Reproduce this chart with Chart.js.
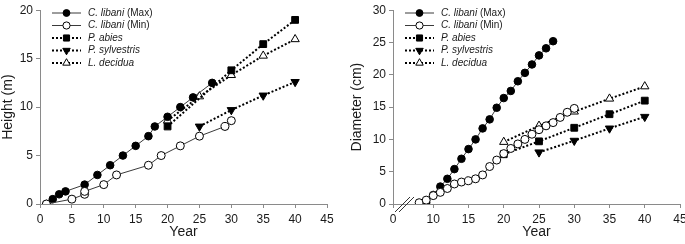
<!DOCTYPE html>
<html>
<head>
<meta charset="utf-8">
<script src="https://cdn.jsdelivr.net/npm/chart.js@4/dist/chart.umd.min.js"></script>
<style>
  html, body { margin: 0; padding: 0; background: #fff; overflow: hidden; }
  #wrap { position: relative; width: 685px; height: 244px; }
  .box { position: absolute; top: 0; height: 244px; }
  #boxL { left: 0; width: 342px; }
  #boxR { left: 343px; width: 350px; }
</style>
</head>
<body>
<div id="wrap">
  <div class="box" id="boxL"><canvas id="cL"></canvas></div>
  <div class="box" id="boxR"><canvas id="cR"></canvas></div>
</div>
<script>
// ---------- Data: Height (m) ----------
const hMaxYears = [1, 2, 3, 4, 7, 9, 11, 13, 15, 17, 18, 20, 22, 24, 27];
const hMaxVals  = [0, 0.5, 1.0, 1.3, 2.0, 3.0, 4.0, 5.0, 6.0, 7.0, 8.0, 9.0, 10.0, 11.0, 12.5];
const hMinYears = [1, 5, 7, 7, 10, 12, 17, 19, 22, 25, 29, 30];
const hMinVals  = [0, 0.5, 1.0, 1.3, 2.0, 3.0, 4.0, 5.0, 6.0, 7.0, 8.0, 8.6];
const hAbiesYears = [20, 30, 35, 40];
const hAbiesVals  = [8.0, 13.8, 16.5, 19.0];
const hSylvYears = [25, 30, 35, 40];
const hSylvVals  = [8.0, 9.7, 11.2, 12.6];
const hDecYears = [20, 25, 30, 35, 40];
const hDecVals  = [8.6, 11.1, 13.3, 15.3, 17.0];

// ---------- Data: Diameter (cm) ----------
const dMaxYears = [9, 10, 11, 12, 13, 14, 15, 16, 17, 18, 19, 20, 21, 22, 23, 24, 25, 26, 27];
const dMaxVals  = [0.2, 1.4, 2.7, 3.9, 5.4, 7.0, 8.5, 10.0, 11.7, 13.1, 14.9, 16.4, 17.5, 19.0, 20.3, 21.6, 23.0, 24.1, 25.2];
const dMinYears = [8, 9, 10, 11, 12, 13, 14, 15, 16, 17, 18, 19, 20, 21, 22, 23, 24, 25, 26, 27, 28, 29, 30];
const dMinVals  = [0.2, 0.6, 1.3, 1.8, 2.4, 3.1, 3.4, 3.6, 3.9, 4.5, 5.8, 6.8, 7.8, 8.6, 9.3, 10.0, 10.8, 11.5, 12.1, 12.6, 13.4, 14.2, 14.8];
const dAbiesYears = [20, 25, 30, 35, 40];
const dAbiesVals  = [7.7, 9.7, 11.8, 13.9, 16.0];
const dSylvYears = [25, 30, 35, 40];
const dSylvVals  = [8.0, 9.8, 11.7, 13.5];
const dDecYears = [20, 25, 30, 35, 40];
const dDecVals  = [9.6, 12.1, 14.3, 16.3, 18.2];

// ---------- Labels ----------
const seriesNames = [["C. libani", " (Max)"], ["C. libani", " (Min)"], ["P. abies", ""], ["P. sylvestris", ""], ["L. decidua", ""]];
const xTickValues = [0, 5, 10, 15, 20, 25, 30, 35, 40, 45];
const xTickValuesBroken = [10, 15, 20, 25, 30, 35, 40, 45];
const heightTicks = [0, 5, 10, 15, 20];
const diamTicks = [0, 5, 10, 15, 20, 25, 30];

const FONT = '"Liberation Sans", Arial, sans-serif';
const AXIS = '#8a8a8a';
const TXT = '#1a1a1a';

function pts(xs, ys) { return xs.map((x, i) => ({ x: x, y: ys[i] })); }

function makeDatasets(sets) {
  const styles = [
    { borderColor: '#3a3a3a', borderWidth: 1, borderDash: [], pointStyle: 'circle', pointRadius: 3.8, pointBackgroundColor: '#000', pointBorderColor: '#000', pointBorderWidth: 1, pointRotation: 0, order: 1 },
    { borderColor: '#3a3a3a', borderWidth: 1, borderDash: [], pointStyle: 'circle', pointRadius: 4.0, pointBackgroundColor: '#fff', pointBorderColor: '#000', pointBorderWidth: 1, pointRotation: 0, order: 0 },
    { borderColor: '#000', borderWidth: 2, borderDash: [2, 2], pointStyle: 'rect', pointRadius: 4.8, pointBackgroundColor: '#000', pointBorderColor: '#000', pointBorderWidth: 1, pointRotation: 0, order: 2 },
    { borderColor: '#000', borderWidth: 2, borderDash: [2, 2], pointStyle: 'triangle', pointRadius: 4.8, pointBackgroundColor: '#000', pointBorderColor: '#000', pointBorderWidth: 1, pointRotation: 180, order: 3 },
    { borderColor: '#000', borderWidth: 2, borderDash: [2, 2], pointStyle: 'triangle', pointRadius: 4.8, pointBackgroundColor: '#fff', pointBorderColor: '#000', pointBorderWidth: 1, pointRotation: 0, order: 4 }
  ];
  return sets.map((d, i) => Object.assign({
    label: seriesNames[i].join(''),
    data: d,
    showLine: true,
    fill: false,
    tension: 0,
    pointHoverRadius: 4
  }, styles[i]));
}

const legendPlugin = {
  id: 'customLegend',
  afterDatasetsDraw(chart, args, opts) {
    const ctx = chart.ctx;
    const rows = [13, 25.5, 38, 50.5, 63];
    const ds = chart.data.datasets;
    ctx.save();
    for (let i = 0; i < ds.length; i++) {
      const d = ds[i];
      const y = rows[i];
      ctx.save();
      ctx.strokeStyle = d.borderColor;
      ctx.lineWidth = d.borderWidth;
      ctx.setLineDash(d.borderDash);
      ctx.beginPath();
      ctx.moveTo(opts.x0, y);
      ctx.lineTo(opts.x1, y);
      ctx.stroke();
      ctx.restore();
      ctx.save();
      ctx.fillStyle = d.pointBackgroundColor;
      ctx.strokeStyle = d.pointBorderColor;
      ctx.lineWidth = d.pointBorderWidth;
      Chart.helpers.drawPoint(ctx, { pointStyle: d.pointStyle, rotation: d.pointRotation, radius: d.pointRadius * 0.9, borderWidth: 1 }, (opts.x0 + opts.x1) / 2, y);
      ctx.restore();
      ctx.fillStyle = TXT;
      ctx.textBaseline = 'middle';
      ctx.font = 'italic 10px ' + FONT;
      ctx.fillText(seriesNames[i][0], opts.tx, y);
      const w = ctx.measureText(seriesNames[i][0]).width;
      ctx.font = '10px ' + FONT;
      ctx.fillText(seriesNames[i][1], opts.tx + w, y);
    }
    ctx.restore();
  }
};

const breakPlugin = {
  id: 'axisBreak',
  afterDraw(chart, args, opts) {
    if (!opts.enabled) return;
    const ctx = chart.ctx;
    const a = chart.chartArea;
    const xb = a.left + 2, yb = a.bottom;
    ctx.save();
    ctx.strokeStyle = '#333';
    ctx.lineWidth = 1;
    [0, 4].forEach(off => {
      ctx.beginPath();
      ctx.moveTo(xb + off, yb + 8);
      ctx.lineTo(xb + off + 15, yb - 7);
      ctx.stroke();
    });
    ctx.restore();
  }
};

function makeChart(id, sets, opt) {
  return new Chart(document.getElementById(id), {
    type: 'line',
    data: { datasets: makeDatasets(sets) },
    plugins: [legendPlugin, breakPlugin],
    options: {
      responsive: true,
      maintainAspectRatio: false,
      animation: false,
      layout: { padding: { left: 0, right: opt.padRight, top: opt.padTop, bottom: 0 } },
      plugins: {
        legend: { display: false },
        tooltip: { enabled: false },
        customLegend: opt.legend,
        axisBreak: { enabled: opt.broken }
      },
      scales: {
        x: {
          type: 'linear',
          min: opt.xmin,
          max: 45,
          afterBuildTicks(scale) {
            scale.ticks = opt.xticks.map(v => ({ value: v }));
          },
          afterFit(scale) { scale.height = 40; },
          grid: { display: true, drawOnChartArea: false, drawTicks: true, tickLength: 4, color: AXIS, tickColor: AXIS },
          border: { display: true, color: AXIS, width: 1 },
          ticks: {
            autoSkip: false,
            maxRotation: 0,
            padding: 4,
            color: TXT,
            font: { family: FONT, size: 12 },
            callback: (v) => (v < 5 && opt.broken) ? '0' : String(v)
          },
          title: { display: true, text: 'Year', color: TXT, font: { family: FONT, size: 14 }, padding: { top: 0, bottom: 3 } }
        },
        y: {
          type: 'linear',
          min: 0,
          max: opt.ymax,
          afterBuildTicks(scale) {
            scale.ticks = opt.yticks.map(v => ({ value: v }));
          },
          afterFit(scale) { scale.width = opt.yWidth; },
          grid: { display: true, drawOnChartArea: false, drawTicks: true, tickLength: 4, color: AXIS, tickColor: AXIS },
          border: { display: true, color: AXIS, width: 1 },
          ticks: { padding: 3, color: TXT, font: { family: FONT, size: 12 } },
          title: { display: true, text: opt.ytitle, color: TXT, font: { family: FONT, size: 14 }, padding: { top: opt.ytitlePad, bottom: 0 } }
        }
      }
    }
  });
}

makeChart('cL', [
  pts(hMaxYears, hMaxVals), pts(hMinYears, hMinVals), pts(hAbiesYears, hAbiesVals),
  pts(hSylvYears, hSylvVals), pts(hDecYears, hDecVals)
], {
  xmin: 0, xticks: xTickValues, broken: false, ymax: 20, yticks: heightTicks,
  yWidth: 40, ytitle: 'Height (m)', ytitlePad: 0, padRight: 15, padTop: 6,
  legend: { x0: 52, x1: 81, tx: 88 }
});

makeChart('cR', [
  pts(dMaxYears, dMaxVals), pts(dMinYears, dMinVals), pts(dAbiesYears, dAbiesVals),
  pts(dSylvYears, dSylvVals), pts(dDecYears, dDecVals)
], {
  xmin: 4.29, xticks: [4.29].concat(xTickValuesBroken), broken: true, ymax: 30, yticks: diamTicks,
  yWidth: 50, ytitle: 'Diameter (cm)', ytitlePad: 6, padRight: 13, padTop: 5,
  legend: { x0: 62, x1: 91, tx: 98 }
});
</script>
</body>
</html>
